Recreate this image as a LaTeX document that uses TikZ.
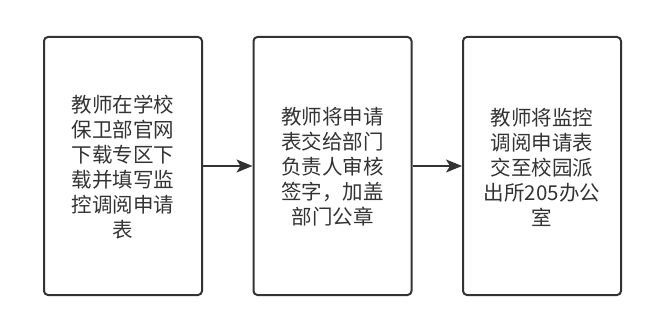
\documentclass[tikz,border=0pt]{standalone}
\usepackage{fontspec}
\newfontfamily\cjk{Noto Sans CJK SC}
\usetikzlibrary{arrows.meta}
\definecolor{ln}{HTML}{333333}
\definecolor{tx}{HTML}{333333}
\tikzset{
  stepbox/.style={draw=ln, line width=2pt, rounded corners=4pt, minimum width=158pt, minimum height=258pt, inner sep=0pt},
  lbl/.style={text=tx, align=center, font=\cjk\fontsize{20.5pt}{25pt}\selectfont},
  conn/.style={draw=ln, line width=1.5pt, -{Stealth[length=16pt,width=13pt,inset=4pt]}}
}
\begin{document}
\begin{tikzpicture}[x=1pt,y=-1pt]
\useasboundingbox (0,0) rectangle (672,334);
\node[stepbox] (b1) at (123,166) {};
\node[stepbox] (b2) at (332.5,166) {};
\node[stepbox] (b3) at (542,166) {};
\node[lbl] (t1) at (123,167) {教师在学校\\保卫部官网\\下载专区下\\载并填写监\\控调阅申请\\表};
\node[lbl] (t2) at (332.5,167) {教师将申请\\表交给部门\\负责人审核\\签字，加盖\\部门公章};
\node[lbl] (t3) at (542,167) {教师将监控\\调阅申请表\\交至校园派\\出所205办公\\室};
\draw[conn] (b1.east) -- (b2.west);
\draw[conn] (b2.east) -- (b3.west);
\end{tikzpicture}
\end{document}
